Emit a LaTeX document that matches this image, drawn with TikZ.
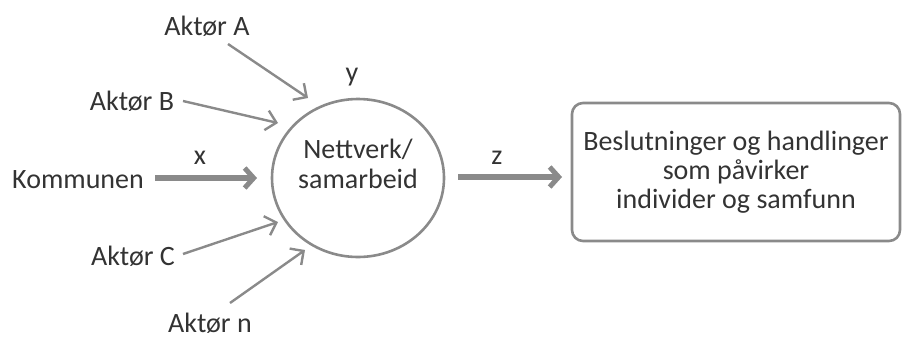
\documentclass[tikz,border=0pt]{standalone}
\usepackage{fontspec}
\setmainfont{Carlito}
\usetikzlibrary{arrows.meta,shapes.geometric}
\definecolor{ln}{HTML}{8A8A8A}
\definecolor{tx}{HTML}{333333}
\begin{document}
\begin{tikzpicture}[x=1pt,y=-1pt,
  lbl/.style={text=tx,font=\fontsize{28}{30}\selectfont,inner sep=1pt},
  thin/.style={draw=ln,line width=2.4pt,-{Straight Barb[length=10pt,width=20pt,line width=2.4pt]}},
  thick/.style={draw=ln,line width=6.5pt,-{Straight Barb[length=9pt,width=20pt,line width=5pt]}},
  hub/.style={draw=ln,line width=2.6pt,ellipse,minimum width=172pt,minimum height=158pt,inner sep=0pt,align=center,text=tx,font=\fontsize{28}{30}\selectfont},
  outbox/.style={draw=ln,line width=2.6pt,rounded corners=11pt,minimum width=328pt,minimum height=138pt,align=center,text=tx,font=\fontsize{28}{29}\selectfont}]
\useasboundingbox (0,0) rectangle (902,338);
\node[hub] (hub) at (358,178) {Nettverk/\\samarbeid\\[-2pt]};
\node[outbox] (box) at (736,172) {Beslutninger og handlinger\\som påvirker\\individer og samfunn};
\node[lbl] (A) at (207,26) {Aktør A};
\node[lbl] (B) at (132,101) {Aktør B};
\node[lbl] (K) at (78,180) {Kommunen};
\node[lbl] (C) at (133,256) {Aktør C};
\node[lbl] (N) at (210,323) {Aktør n};
\node[lbl] (ylab) at (352,77) {y};
\node[lbl] (xlab) at (200,158) {x};
\node[lbl] (zlab) at (497,158) {z};
\coordinate (As) at (228,44);
\coordinate (Ae) at (308,98);
\coordinate (Bs) at (183,101);
\coordinate (Be) at (278,123);
\coordinate (Cs) at (183,254);
\coordinate (Ce) at (278,222);
\coordinate (Ns) at (230,303);
\coordinate (Ne) at (305,250);
\coordinate (Ks) at (155,178);
\coordinate (Ke) at (257,178);
\coordinate (Zs) at (458,177);
\coordinate (Ze) at (562,177);
\draw[thin] (As) -- (Ae);
\draw[thin] (Bs) -- (Be);
\draw[thin] (Cs) -- (Ce);
\draw[thin] (Ns) -- (Ne);
\draw[thick] (Ks) -- (Ke);
\draw[thick] (Zs) -- (Ze);
\end{tikzpicture}
\end{document}
